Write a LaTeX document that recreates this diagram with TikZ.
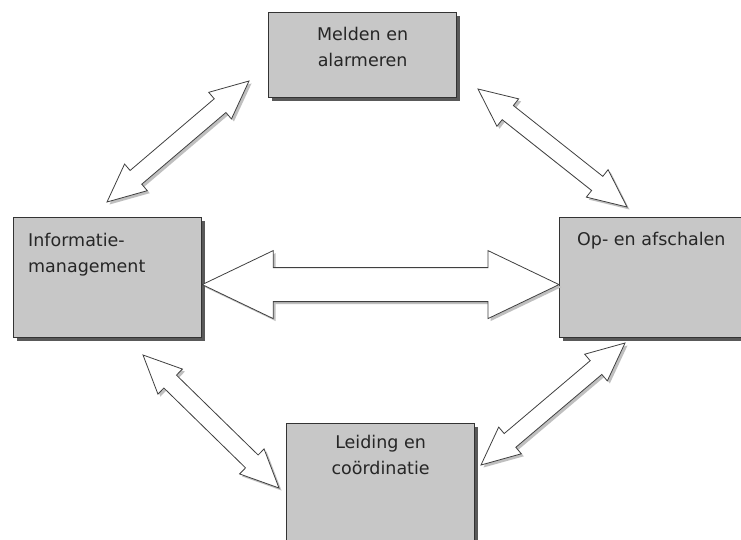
\documentclass[tikz,border=0pt]{standalone}
\usepackage{fontspec}
\setmainfont{DejaVu Sans}
\usetikzlibrary{calc,positioning}

% double block arrow between two points: from, to, head length, head half width, shaft half width
\newcommand{\blockarrow}[5]{%
  \draw[barrow] let \p1=($(#2)-(#1)$), \n1={atan2(\y1,\x1)}, \n2={\n1+90} in
    (#1) -- ($(#1)+(\n1:#3)+(\n2:#4)$) -- ($(#1)+(\n1:#3)+(\n2:#5)$)
    -- ($(#2)+(\n1:-#3)+(\n2:#5)$) -- ($(#2)+(\n1:-#3)+(\n2:#4)$)
    -- (#2)
    -- ($(#2)+(\n1:-#3)+(\n2:-#4)$) -- ($(#2)+(\n1:-#3)+(\n2:-#5)$)
    -- ($(#1)+(\n1:#3)+(\n2:-#5)$) -- ($(#1)+(\n1:#3)+(\n2:-#4)$) -- cycle;}

\begin{document}
\begin{tikzpicture}[x=1pt, y=-1pt, font=\fontsize{17.5}{26}\selectfont,
  box/.style={draw=black!80, line width=1.2pt, fill=black!22, minimum width=188pt, minimum height=120pt, anchor=north west,
    preaction={fill=black!65, transform canvas={shift={(3pt,-3pt)}}}},
  lbl/.style={inner sep=0pt, text=black!85, align=center},
  barrow/.style={draw=black!75, line width=0.8pt, fill=white, line join=miter,
    preaction={fill=black!25, transform canvas={shift={(2.5pt,-2.5pt)}}}}]
  \path[use as bounding box, clip] (0,0) rectangle (741,540);
  \fill[white] (0,0) rectangle (741,540);
  % stages
  \node[box, minimum height=85pt] (melden) at (268,12) {};
  \node[box] (info) at (13,217) {};
  \node[box] (opaf) at (559,217) {};
  \node[box] (leiding) at (286,423) {};
  \node[lbl, anchor=north] (melden-t) at ([yshift=-15pt]melden.north) {Melden en\\alarmeren};
  \node[lbl, anchor=north west, align=left] (info-t) at ([shift={(15pt,-16pt)}]info.north west) {Informatie-\\management};
  \node[lbl, anchor=north west] (opaf-t) at ([shift={(18pt,-15pt)}]opaf.north west) {Op- en afschalen};
  \node[lbl, anchor=north] (leiding-t) at ([yshift=-12pt]leiding.north) {Leiding en\\coördinatie};
  % arrow ends
  \coordinate (im-w) at ([yshift=-7pt]info.east);
  \coordinate (oa-w) at ([yshift=-7pt]opaf.west);
  \coordinate (im-n) at (107,202);
  \coordinate (ma-w) at (249,81);
  \coordinate (ma-e) at (478,89);
  \coordinate (oa-n) at (627,207);
  \coordinate (im-s) at (143,355);
  \coordinate (lc-w) at (279,488);
  \coordinate (oa-s) at (625,343);
  \coordinate (lc-e) at (481,465);
  \blockarrow{im-w}{oa-w}{71pt}{34pt}{17pt}
  \foreach \a/\b in {im-n/ma-w,ma-e/oa-n,im-s/lc-w,oa-s/lc-e} {\blockarrow{\a}{\b}{38pt}{17.5pt}{9pt}}
\end{tikzpicture}
\end{document}
